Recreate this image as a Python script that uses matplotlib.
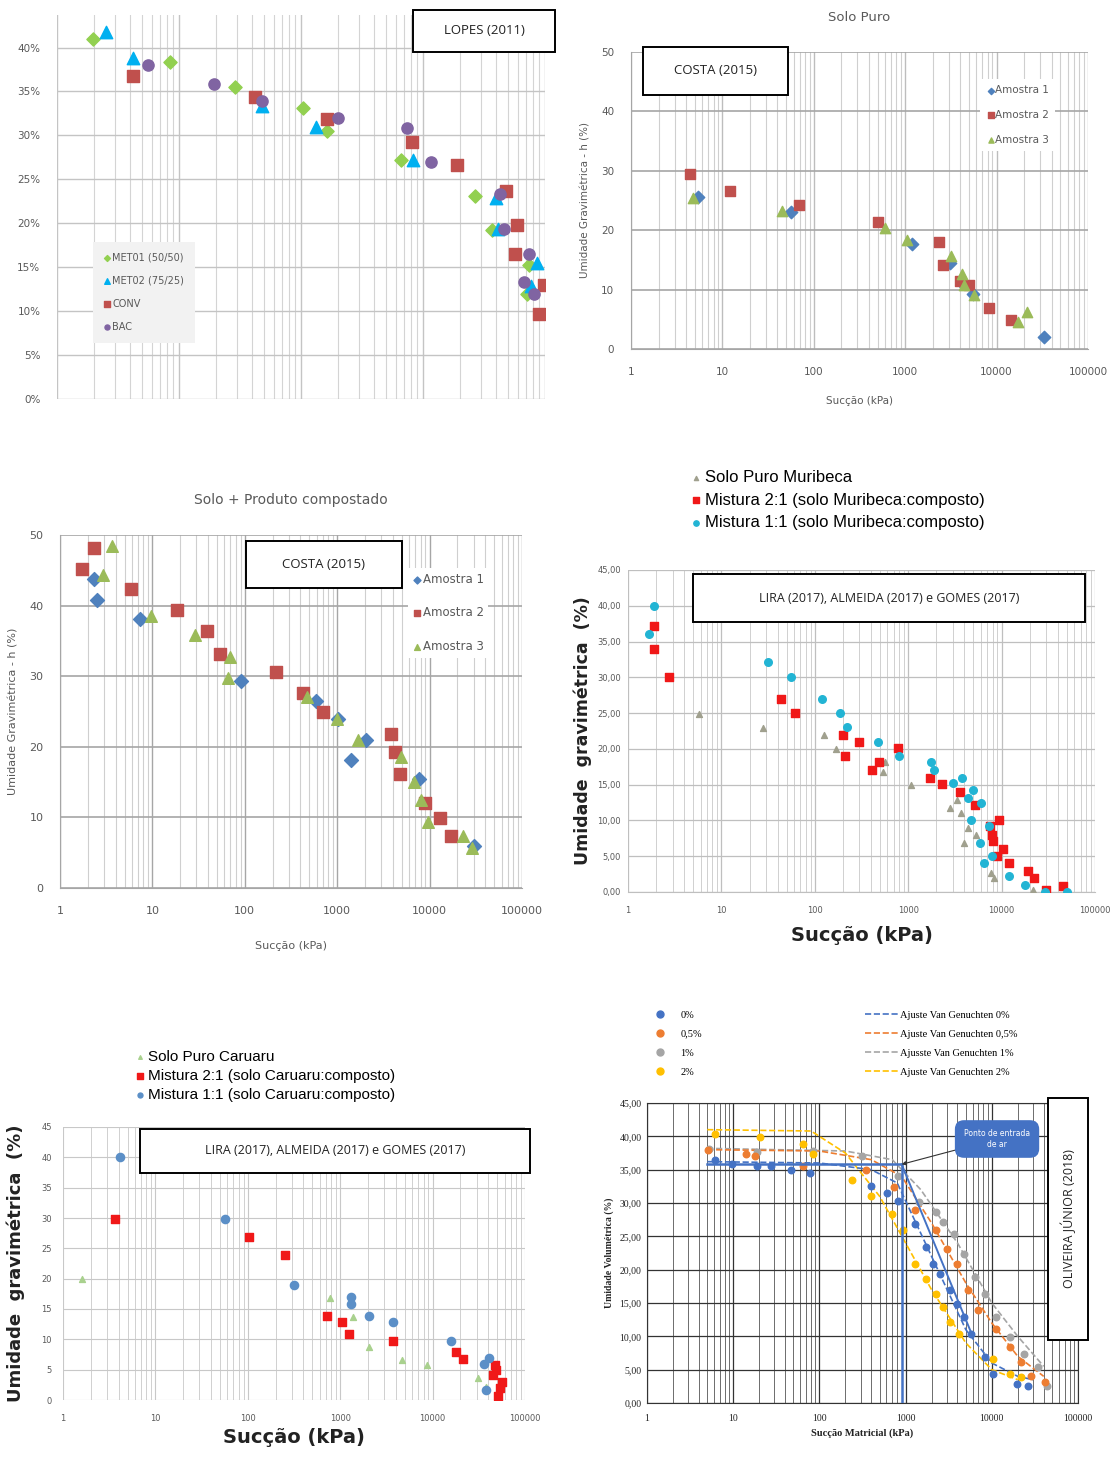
import numpy as np
import matplotlib
matplotlib.use("Agg")
import matplotlib.pyplot as plt
import matplotlib.ticker as mticker
from matplotlib.patches import Rectangle
from matplotlib.lines import Line2D

W, H = 1112, 1461

# ---------------- LOPES (2011) ----------------
lopes_met01_x = [1.97, 8.4, 28.6, 103, 164, 666, 2670, 3670, 7130, 7400]
lopes_met01_y = [41.0, 38.4, 35.5, 33.1, 30.5, 27.2, 23.1, 19.2, 11.9, 15.2]
lopes_met02_x = [2.53, 4.23, 47.5, 133, 827, 3930, 4150, 8560, 7620]
lopes_met02_y = [41.8, 38.8, 33.3, 30.9, 27.2, 22.9, 19.3, 15.5, 12.9]
lopes_conv_x = [4.2, 42, 163, 816, 1900, 4750, 5900, 5700, 9900, 8920]
lopes_conv_y = [36.8, 34.4, 31.9, 29.2, 26.6, 23.7, 19.8, 16.5, 13.0, 9.7]
lopes_bac_x = [5.62, 19.3, 47.5, 201, 738, 1160, 4290, 4590, 7430, 6750, 8170]
lopes_bac_y = [38.0, 35.9, 33.9, 32.0, 30.8, 27.0, 23.3, 19.4, 16.5, 13.3, 12.0]

# ---------------- COSTA (2015) Solo Puro ----------------
sp_a1_x = [5.42, 55.8, 1200, 3060, 4170, 5450, 33200]
sp_a1_y = [25.6, 23.1, 17.7, 14.5, 11.1, 9.2, 2.1]
sp_a2_x = [4.42, 12, 68.5, 507, 2340, 2610, 3990, 4990, 8350, 14500]
sp_a2_y = [29.4, 26.6, 24.2, 21.3, 18.0, 14.1, 11.4, 10.8, 6.9, 4.9]
sp_a3_x = [4.75, 44.7, 600, 1050, 3140, 4170, 4400, 5700, 17300, 21300]
sp_a3_y = [25.4, 23.3, 20.4, 18.3, 15.6, 12.7, 10.7, 9.1, 4.6, 6.2]

# ---------------- COSTA (2015) Solo + Produto compostado ----------------
sc_a1_x = [2.36, 2.54, 7.33, 91.5, 588, 1030, 1425, 2030, 7670, 30300]
sc_a1_y = [43.8, 40.8, 38.1, 29.3, 26.5, 23.9, 18.1, 20.9, 15.4, 5.9]
sc_a2_x = [1.75, 2.32, 5.88, 18.6, 38.8, 53.8, 218, 431, 702, 3840, 4200, 4800, 8920, 13000, 17000]
sc_a2_y = [45.2, 48.1, 42.3, 39.4, 36.4, 33.2, 30.6, 27.6, 24.9, 21.8, 19.2, 16.2, 12.0, 9.9, 7.3]
sc_a3_x = [2.9, 3.68, 9.57, 29, 68.9, 65.9, 471, 998, 1700, 4920, 6710, 8010, 9570, 23200, 29000]
sc_a3_y = [44.4, 48.4, 38.5, 35.9, 32.7, 29.8, 27.1, 23.9, 20.9, 18.5, 15.0, 12.4, 9.4, 7.3, 5.6]

# ---------------- LIRA / ALMEIDA / GOMES - Muribeca ----------------
mu_puro_x = [5.72, 28, 127, 169, 567, 543, 1072, 2800, 3330, 3640, 4330, 3960, 5380, 7640, 8320, 21700]
mu_puro_y = [24.9, 22.9, 22.0, 20.0, 18.1, 16.8, 15.0, 11.7, 12.9, 11.0, 8.9, 6.8, 8.0, 2.7, 2.0, 0.3]
mu_m21_x = [1.92, 1.92, 2.77, 43.3, 61.3, 199, 208, 295, 411, 481, 770, 1700, 2290, 3570, 5150,
            7430, 7980, 8110, 9490, 10400, 8850, 12100, 19100, 22300, 30000, 45600]
mu_m21_y = [37.2, 34.0, 30.0, 27.0, 25.0, 22.0, 19.0, 21.0, 17.1, 18.1, 20.1, 16.0, 15.1, 14.0, 12.1,
            9.2, 8.0, 7.1, 10.0, 6.0, 5.0, 4.0, 3.0, 2.0, 0.3, 0.8]
mu_m11_x = [1.69, 1.89, 31.4, 56.2, 118, 187, 223, 476, 790, 1760, 1890, 3000, 3800, 4330, 4930,
            4720, 6030, 5870, 6410, 7310, 7830, 12100, 17800, 29000, 50700]
mu_m11_y = [36.0, 40.0, 32.1, 30.0, 27.0, 25.0, 23.0, 21.0, 19.0, 18.1, 17.1, 15.2, 16.0, 13.1, 14.3,
            10.1, 12.4, 6.9, 4.0, 9.2, 5.0, 2.2, 1.0, 0.0, 0.0]

# ---------------- LIRA / ALMEIDA / GOMES - Caruaru ----------------
ca_puro_x = [1.6, 767, 1364, 2030, 4710, 8750, 30800, 37700]
ca_puro_y = [20.0, 16.8, 13.7, 8.7, 6.6, 5.8, 3.7, 2.2]
ca_m21_x = [3.68, 103, 253, 714, 1045, 1250, 3770, 17800, 21200, 47100, 45100, 49000, 56200, 53800, 51500]
ca_m21_y = [29.8, 26.8, 23.9, 13.8, 12.9, 10.8, 9.8, 7.9, 6.8, 5.8, 4.2, 5.0, 2.9, 1.9, 0.6]
ca_m11_x = [4.12, 57.3, 316, 1300, 1300, 2030, 3770, 16000, 36100, 41200, 37700]
ca_m11_y = [40.0, 29.9, 18.9, 16.9, 15.8, 13.8, 12.9, 9.8, 6.0, 6.9, 1.7]

# ---------------- OLIVEIRA JÚNIOR (2018) ----------------
oj_0_x = [6.08, 9.7, 18.8, 27.3, 47.1, 78.3, 398, 608, 806, 1290, 1710, 2060, 2490, 3300, 3980,
          4800, 5800, 8450, 10200, 19700, 26100]
oj_0_y = [36.5, 35.9, 35.5, 35.5, 34.9, 34.5, 32.6, 31.5, 30.3, 26.8, 23.4, 20.9, 19.4, 16.9, 14.9,
          12.9, 10.4, 6.9, 4.4, 2.9, 2.6]
oj_05_x = [5.04, 14.2, 17.9, 63.7, 346, 733, 1290, 2270, 3000, 3980, 5280, 7000, 11200, 16300,
           21600, 28600, 41700]
oj_05_y = [37.9, 37.4, 37.1, 35.6, 34.9, 32.4, 28.9, 25.9, 23.1, 20.9, 16.9, 13.9, 11.1, 8.4,
           6.1, 4.1, 3.1]
oj_1_x = [5.28, 18.8, 84.4, 315, 806, 1415, 2270, 2730, 3620, 4800, 6370, 8450, 11200, 16300,
          23800, 34600, 43800]
oj_1_y = [38.1, 37.6, 37.8, 37.1, 34.1, 30.1, 28.6, 27.1, 25.4, 22.4, 18.9, 16.4, 12.9, 9.9,
          7.4, 5.4, 2.6]
oj_2_x = [6.08, 20.6, 63.7, 84.4, 238, 398, 700, 927, 1290, 1710, 2270, 2730, 3300, 4170,
          10200, 16300, 21600]
oj_2_y = [40.4, 39.9, 38.9, 37.4, 33.4, 31.1, 28.4, 25.9, 20.9, 18.6, 16.4, 14.4, 12.1, 10.4,
          6.6, 4.4, 3.9]
# curvas de ajuste Van Genuchten
fit_0_x = [5, 100, 400, 800, 2000, 5000, 10000, 20000, 30000]
fit_0_y = [36.2, 36.0, 35.0, 33.0, 22.0, 11.0, 6.0, 4.0, 3.5]
fit_05_x = [5, 100, 400, 900, 2000, 5000, 10000, 20000, 40000]
fit_05_y = [38.0, 37.8, 36.5, 34.0, 27.0, 18.0, 12.0, 7.0, 4.0]
fit_1_x = [5, 200, 700, 1500, 4000, 10000, 20000, 40000]
fit_1_y = [38.2, 37.8, 36.5, 32.0, 24.0, 15.0, 10.0, 5.5]
fit_2_x = [5, 80, 200, 500, 1000, 2000, 5000, 10000, 20000]
fit_2_y = [41.0, 40.8, 37.5, 31.0, 24.0, 17.0, 9.0, 5.0, 3.5]
# ponto de entrada de ar
entrada_x = [5, 900, 900]
entrada_y = [35.8, 35.8, 0]
tangente_x = [900, 6000]
tangente_y = [35.8, 10.0]

decadas = [1, 10, 100, 1000, 10000, 100000]
decadas_txt = ["1", "10", "100", "1000", "10000", "100000"]

fig = plt.figure(figsize=(W / 100, H / 100), dpi=100)


def fx(px):
    return px / W


def fy(py):
    return 1 - py / H


def eixo(x0, y0, x1, y1):
    return fig.add_axes([fx(x0), fy(y1), (x1 - x0) / W, (y1 - y0) / H])


def caixa(x0, y0, x1, y1, texto, fs, rot=0, family="Open Sans"):
    fig.add_artist(Rectangle((fx(x0), fy(y1)), (x1 - x0) / W, (y1 - y0) / H,
                             transform=fig.transFigure, facecolor="white",
                             edgecolor="black", lw=1.4, zorder=5))
    fig.text(fx((x0 + x1) / 2), fy((y0 + y1) / 2), texto, ha="center", va="center",
             fontsize=fs, rotation=rot, family=family, color="#222222", zorder=6)


def escala_log(ax, xmax=1e5, rotulos=True, fs=8, cor="#595959", family="DejaVu Sans"):
    ax.set_xscale("log")
    ax.set_xlim(1, xmax)
    ax.xaxis.set_major_locator(mticker.FixedLocator([d for d in decadas if d <= xmax]))
    if rotulos:
        ax.xaxis.set_major_formatter(mticker.FixedFormatter([t for d, t in zip(decadas, decadas_txt) if d <= xmax]))
    else:
        ax.xaxis.set_major_formatter(mticker.NullFormatter())
    ax.xaxis.set_minor_locator(mticker.LogLocator(base=10, subs=np.arange(2, 10), numticks=100))
    ax.xaxis.set_minor_formatter(mticker.NullFormatter())
    ax.tick_params(which="both", length=0, labelsize=fs, colors=cor)
    for lab in ax.get_xticklabels() + ax.get_yticklabels():
        lab.set_family(family)


# ================= Painel 1 - LOPES =================
ax1 = eixo(57, 15, 545, 399)
escala_log(ax1, xmax=1e4, rotulos=False)
ax1.set_ylim(0, 43.7)
ax1.yaxis.set_major_locator(mticker.MultipleLocator(5))
ax1.yaxis.set_major_formatter(mticker.FuncFormatter(lambda v, p: f"{v:.0f}%"))
ax1.tick_params(axis="y", labelsize=7.5, colors="#595959", pad=12)
ax1.grid(which="major", color="#c4c4c4", lw=1.0)
ax1.grid(which="minor", axis="x", color="#d4d4d4", lw=0.8)
for s in ax1.spines.values():
    s.set_visible(False)
ax1.scatter(lopes_met01_x, lopes_met01_y, marker="D", s=45, color="#92d050", label="MET01 (50/50)", zorder=3)
ax1.scatter(lopes_met02_x, lopes_met02_y, marker="^", s=80, color="#00b0f0", label="MET02 (75/25)", zorder=3)
ax1.scatter(lopes_conv_x, lopes_conv_y, marker="s", s=75, color="#c0504d", label="CONV", zorder=3)
ax1.scatter(lopes_bac_x, lopes_bac_y, marker="o", s=65, color="#8064a2", label="BAC", zorder=3)
lg = ax1.legend(loc="upper left", bbox_to_anchor=(fx(88), fy(237)), bbox_transform=fig.transFigure,
                fontsize=7, labelspacing=1.35, handletextpad=0.1, handlelength=0.8, borderpad=1.1,
                markerscale=0.45, frameon=True, fancybox=False, labelcolor="#595959")
lg.get_frame().set_facecolor("#f2f2f2")
lg.get_frame().set_edgecolor("none")
lg.get_frame().set_alpha(1)
caixa(413, 10, 555, 52, "LOPES (2011)", 9.5)

# ================= Painel 2 - COSTA Solo Puro =================
ax2 = eixo(631, 52, 1088, 349)
escala_log(ax2, fs=7.5)
ax2.set_ylim(0, 50)
ax2.yaxis.set_major_locator(mticker.MultipleLocator(10))
ax2.tick_params(axis="x", pad=13)
ax2.tick_params(axis="y", pad=12)
ax2.grid(which="major", axis="y", color="#a6a6a6", lw=1.2)
ax2.grid(which="major", axis="x", color="#bdbdbd", lw=1.0)
ax2.grid(which="minor", axis="x", color="#cfcfcf", lw=0.8)
for k in ["top", "right"]:
    ax2.spines[k].set_visible(False)
for k in ["left", "bottom"]:
    ax2.spines[k].set_color("#a6a6a6")
ax2.scatter(sp_a1_x, sp_a1_y, marker="D", s=40, color="#4f81bd", label="Amostra 1", zorder=3)
ax2.scatter(sp_a2_x, sp_a2_y, marker="s", s=60, color="#c0504d", label="Amostra 2", zorder=3)
ax2.scatter(sp_a3_x, sp_a3_y, marker="^", s=55, color="#9bbb59", label="Amostra 3", zorder=3)
ax2.set_title("Solo Puro", fontsize=9.5, color="#595959", pad=22)
ax2.set_xlabel("Sucção (kPa)", fontsize=7.5, color="#595959", labelpad=14)
ax2.set_ylabel("Umidade Gravimétrica - h (%)", fontsize=7.5, color="#595959", labelpad=8)
lg = ax2.legend(loc="upper left", bbox_to_anchor=(fx(975), fy(74)), bbox_transform=fig.transFigure,
                fontsize=7.5, labelspacing=1.4, handletextpad=0.05, handlelength=0.8, borderpad=0.6,
                markerscale=0.5, frameon=True, fancybox=False, labelcolor="#595959")
lg.get_frame().set_facecolor("white")
lg.get_frame().set_edgecolor("none")
lg.get_frame().set_alpha(1)
caixa(643, 47, 788, 95, "COSTA (2015)", 9.5)

# ================= Painel 3 - COSTA Solo + Produto =================
ax3 = eixo(60, 535, 522, 888)
escala_log(ax3, fs=8)
ax3.set_ylim(0, 50)
ax3.yaxis.set_major_locator(mticker.MultipleLocator(10))
ax3.tick_params(axis="x", pad=13)
ax3.tick_params(axis="y", pad=12)
ax3.grid(which="major", axis="y", color="#a6a6a6", lw=1.2)
ax3.grid(which="major", axis="x", color="#a6a6a6", lw=1.0)
ax3.grid(which="minor", axis="x", color="#cfcfcf", lw=0.8)
for k in ["top", "right"]:
    ax3.spines[k].set_visible(False)
for k in ["left", "bottom"]:
    ax3.spines[k].set_color("#a6a6a6")
ax3.scatter(sc_a1_x, sc_a1_y, marker="D", s=50, color="#4f81bd", label="Amostra 1", zorder=3)
ax3.scatter(sc_a2_x, sc_a2_y, marker="s", s=75, color="#c0504d", label="Amostra 2", zorder=3)
ax3.scatter(sc_a3_x, sc_a3_y, marker="^", s=70, color="#9bbb59", label="Amostra 3", zorder=3)
ax3.set_title("Solo + Produto compostado", fontsize=10, color="#595959", pad=22)
ax3.set_xlabel("Sucção (kPa)", fontsize=8, color="#595959", labelpad=18)
ax3.set_ylabel("Umidade Gravimétrica - h (%)", fontsize=8, color="#595959", labelpad=8)
lg = ax3.legend(loc="upper left", bbox_to_anchor=(fx(402), fy(562)), bbox_transform=fig.transFigure,
                fontsize=8.5, labelspacing=1.75, handletextpad=0.05, handlelength=0.8, borderpad=0.4,
                markerscale=0.5, frameon=True, fancybox=False, labelcolor="#595959")
lg.get_frame().set_facecolor("white")
lg.get_frame().set_edgecolor("none")
lg.get_frame().set_alpha(1)
caixa(246, 541, 402, 588, "COSTA (2015)", 9.5)

# ================= Painel 4 - LIRA Muribeca =================
ax4 = eixo(628, 570, 1095, 892)
escala_log(ax4, fs=6)
ax4.set_ylim(0, 45)
ax4.yaxis.set_major_locator(mticker.MultipleLocator(5))
ax4.yaxis.set_major_formatter(mticker.FuncFormatter(lambda v, p: f"{v:.2f}".replace(".", ",")))
ax4.tick_params(axis="x", pad=10)
ax4.tick_params(axis="y", pad=5)
ax4.grid(which="major", color="#bfbfbf", lw=0.9)
ax4.grid(which="minor", axis="x", color="#d0d0d0", lw=0.7)
for s in ax4.spines.values():
    s.set_visible(False)
ax4.spines["bottom"].set_visible(True)
ax4.spines["bottom"].set_color("#bfbfbf")
ax4.scatter(mu_puro_x, mu_puro_y, marker="^", s=18, color="#a0a08e", label="Solo Puro Muribeca", zorder=3)
ax4.scatter(mu_m21_x, mu_m21_y, marker="s", s=30, color="#f01818", label="Mistura 2:1 (solo Muribeca:composto)", zorder=3)
ax4.scatter(mu_m11_x, mu_m11_y, marker="o", s=30, color="#22b4d4", label="Mistura 1:1 (solo Muribeca:composto)", zorder=3)
ax4.set_xlabel("Sucção (kPa)", fontsize=14, fontweight="bold", color="#222222", labelpad=8)
ax4.set_ylabel("Umidade  gravimétrica  (%)", fontsize=12.5, fontweight="bold", color="#222222", labelpad=4)
ax4.legend(loc="upper left", bbox_to_anchor=(fx(683), fy(462)), bbox_transform=fig.transFigure,
           labelspacing=0.45, handletextpad=0.2, handlelength=0.6, borderpad=0,
           markerscale=0.7, frameon=False, prop={"family": "Liberation Sans", "size": 12})
caixa(693, 574, 1085, 622, "LIRA (2017), ALMEIDA (2017) e GOMES (2017)", 9)

# ================= Painel 5 - LIRA Caruaru =================
ax5 = eixo(63, 1127, 525, 1400)
escala_log(ax5, fs=6)
ax5.set_ylim(0, 45)
ax5.yaxis.set_major_locator(mticker.MultipleLocator(5))
ax5.tick_params(axis="x", pad=10)
ax5.tick_params(axis="y", pad=8)
ax5.grid(which="major", color="#c8c8c8", lw=0.8)
ax5.grid(which="minor", axis="x", color="#d0d0d0", lw=0.7)
for s in ax5.spines.values():
    s.set_visible(False)
ax5.scatter(ca_puro_x, ca_puro_y, marker="^", s=18, color="#a9d18e", label="Solo Puro Caruaru", zorder=3)
ax5.scatter(ca_m21_x, ca_m21_y, marker="s", s=40, color="#f01818", label="Mistura 2:1 (solo Caruaru:composto)", zorder=3)
ax5.scatter(ca_m11_x, ca_m11_y, marker="o", s=35, color="#5b8fc7", label="Mistura 1:1 (solo Caruaru:composto)", zorder=3)
ax5.set_xlabel("Sucção (kPa)", fontsize=14, fontweight="bold", color="#222222", labelpad=4)
ax5.set_ylabel("Umidade  gravimétrica  (%)", fontsize=13, fontweight="bold", color="#222222", labelpad=12)
ax5.legend(loc="upper left", bbox_to_anchor=(fx(128), fy(1042)), bbox_transform=fig.transFigure,
           labelspacing=0.35, handletextpad=0.2, handlelength=0.6, borderpad=0,
           markerscale=0.6, frameon=False, prop={"family": "Liberation Sans", "size": 11})
caixa(140, 1129, 530, 1173, "LIRA (2017), ALMEIDA (2017) e GOMES (2017)", 9)

# ================= Painel 6 - OLIVEIRA JÚNIOR =================
serif = "Liberation Serif"
ax6 = eixo(647, 1103, 1078, 1403)
escala_log(ax6, fs=7, cor="#222222", family=serif)
ax6.set_ylim(0, 45)
ax6.yaxis.set_major_locator(mticker.MultipleLocator(5))
ax6.yaxis.set_major_formatter(mticker.FuncFormatter(lambda v, p: f"{v:.2f}".replace(".", ",")))
for lab in ax6.get_yticklabels():
    lab.set_family(serif)
ax6.tick_params(axis="x", pad=8)
ax6.tick_params(axis="y", pad=4)
ax6.grid(which="major", color="#333333", lw=0.9)
ax6.grid(which="minor", axis="x", color="#555555", lw=0.6)
for s in ax6.spines.values():
    s.set_color("#333333")
c0, c05, c1, c2 = "#4472c4", "#ed7d31", "#a5a5a5", "#ffc000"
ax6.plot(fit_1_x, fit_1_y, ls="--", lw=1.2, color=c1, zorder=2)
ax6.plot(fit_05_x, fit_05_y, ls="--", lw=1.2, color=c05, zorder=2)
ax6.plot(fit_2_x, fit_2_y, ls="--", lw=1.2, color=c2, zorder=2)
ax6.plot(fit_0_x, fit_0_y, ls="--", lw=1.2, color=c0, zorder=2)
ax6.scatter(oj_1_x, oj_1_y, s=22, color=c1, zorder=3)
ax6.scatter(oj_05_x, oj_05_y, s=22, color=c05, zorder=3)
ax6.scatter(oj_2_x, oj_2_y, s=22, color=c2, zorder=3)
ax6.scatter(oj_0_x, oj_0_y, s=22, color=c0, zorder=3)
ax6.plot(entrada_x, entrada_y, color=c0, lw=1.8, zorder=4)
ax6.plot(tangente_x, tangente_y, color=c0, lw=1.4, zorder=4)
ax6.annotate("Ponto de entrada\nde ar", xy=(entrada_x[1], entrada_y[1]), xytext=(11500, 39.6),
             ha="center", va="center", fontsize=5.5, color="white", family="DejaVu Sans",
             bbox=dict(boxstyle="round,pad=1.1", fc="#4472c4", ec="#4472c4"),
             arrowprops=dict(arrowstyle="-|>", color="#333333", lw=0.8, shrinkA=0, shrinkB=0),
             zorder=6)
ax6.set_xlabel("Sucção Matricial (kPa)", fontsize=7.5, fontweight="bold", family=serif, color="#222222", labelpad=4)
ax6.set_ylabel("Umidade Volumétrica (%)", fontsize=7, fontweight="bold", family=serif, color="#222222", labelpad=4)

mk = [Line2D([], [], ls="none", marker="o", ms=5, color=c) for c in (c0, c05, c1, c2)]
ln = [Line2D([], [], ls="--", lw=1.2, color=c) for c in (c0, c05, c1, c2)]
leg_a = ax6.legend(mk, ["0%", "0,5%", "1%", "2%"], loc="upper left", bbox_to_anchor=(fx(650), fy(1005)),
                   bbox_transform=fig.transFigure, frameon=False, borderpad=0, labelspacing=0.95,
                   handlelength=1.0, handletextpad=1.4, prop={"family": serif, "size": 7.5})
ax6.add_artist(leg_a)
ax6.legend(ln, ["Ajuste Van Genuchten 0%", "Ajuste Van Genuchten 0,5%", "Ajusste Van Genuchten 1%",
                "Ajuste Van Genuchten 2%"], loc="upper left", bbox_to_anchor=(fx(860), fy(1005)),
           bbox_transform=fig.transFigure, frameon=False, borderpad=0, labelspacing=0.95,
           handlelength=3.2, handletextpad=0.1, prop={"family": serif, "size": 7.5})
caixa(1048, 1098, 1088, 1340, "OLIVEIRA JÚNIOR (2018)", 9, rot=90)

fig.savefig("out.png", dpi=100)
